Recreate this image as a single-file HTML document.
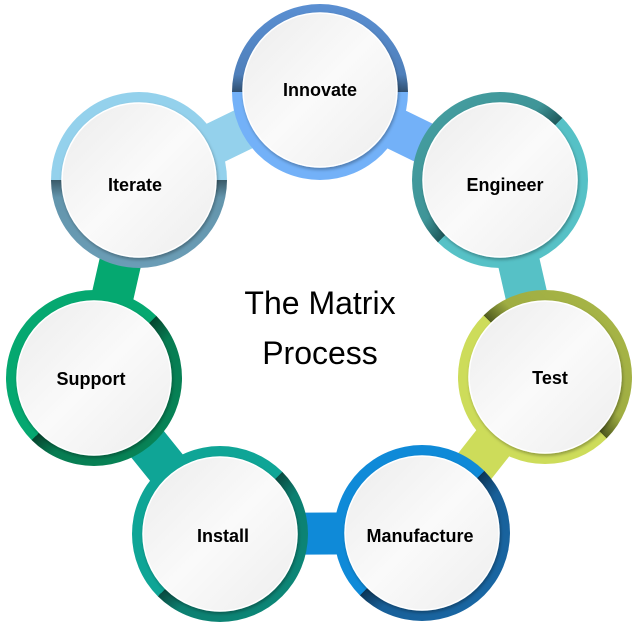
<!DOCTYPE html>
<html><head><meta charset="utf-8"><style>
html,body{margin:0;padding:0;background:#fff;}
svg{display:block;}
text{font-family:"Liberation Sans",sans-serif;}
</style></head><body>
<svg width="640" height="627" viewBox="0 0 640 627" xmlns="http://www.w3.org/2000/svg">
<defs>
<linearGradient id="gInn" x1="0" y1="1" x2="0" y2="0"><stop offset="0" stop-color="#73b1f8"/><stop offset="0.5" stop-color="#73b1f8"/><stop offset="0.5" stop-color="#2f4f70"/><stop offset="0.6" stop-color="#4f80bb"/><stop offset="1" stop-color="#5a8fd2"/></linearGradient>
<linearGradient id="gIt" x1="0" y1="0" x2="0" y2="1"><stop offset="0" stop-color="#94d1ec"/><stop offset="0.5" stop-color="#94d1ec"/><stop offset="0.5" stop-color="#3a5a68"/><stop offset="0.6" stop-color="#6395ac"/><stop offset="1" stop-color="#6b9db6"/></linearGradient>
<linearGradient id="gEng" x1="1" y1="1" x2="0" y2="0"><stop offset="0" stop-color="#56c1c6"/><stop offset="0.5" stop-color="#56c1c6"/><stop offset="0.5" stop-color="#1f5a5c"/><stop offset="0.6" stop-color="#3f9598"/><stop offset="1" stop-color="#46a0a2"/></linearGradient>
<linearGradient id="gTest" x1="0" y1="1" x2="1" y2="0"><stop offset="0" stop-color="#cddc5a"/><stop offset="0.5" stop-color="#cddc5a"/><stop offset="0.5" stop-color="#4f5a1e"/><stop offset="0.6" stop-color="#9fad42"/><stop offset="1" stop-color="#aab848"/></linearGradient>
<linearGradient id="gMan" x1="0" y1="0" x2="1" y2="1"><stop offset="0" stop-color="#0f8ad8"/><stop offset="0.5" stop-color="#0f8ad8"/><stop offset="0.5" stop-color="#0c3556"/><stop offset="0.6" stop-color="#185f98"/><stop offset="1" stop-color="#1a6aa8"/></linearGradient>
<linearGradient id="gIns" x1="0" y1="0" x2="1" y2="1"><stop offset="0" stop-color="#0fa596"/><stop offset="0.5" stop-color="#0fa596"/><stop offset="0.5" stop-color="#0a4a40"/><stop offset="0.6" stop-color="#0c7f70"/><stop offset="1" stop-color="#0d8a7a"/></linearGradient>
<linearGradient id="gSup" x1="0" y1="0" x2="1" y2="1"><stop offset="0" stop-color="#05a870"/><stop offset="0.5" stop-color="#05a870"/><stop offset="0.5" stop-color="#05452e"/><stop offset="0.6" stop-color="#077c52"/><stop offset="1" stop-color="#078758"/></linearGradient>
<linearGradient id="gW" x1="0" y1="0" x2="1" y2="1"><stop offset="0" stop-color="#ececec"/><stop offset="0.5" stop-color="#fafafa"/><stop offset="1" stop-color="#ededed"/></linearGradient>
<filter id="sh" x="-20%" y="-20%" width="140%" height="140%"><feDropShadow dx="1" dy="2" stdDeviation="1.5" flood-color="#000" flood-opacity="0.3"/></filter>
</defs>
<g stroke-width="42" stroke-linecap="round">
<line x1="139" y1="180" x2="320" y2="92" stroke="#94d1ec"/>
<line x1="320" y1="92" x2="500" y2="180" stroke="#73b1f8"/>
<line x1="500" y1="180" x2="545" y2="377" stroke="#56c1c6"/>
<line x1="545" y1="377" x2="422" y2="533" stroke="#cddc5a"/>
<line x1="422" y1="533" x2="220" y2="534" stroke="#0f8ad8"/>
<line x1="220" y1="534" x2="94" y2="378" stroke="#0fa596"/>
<line x1="94" y1="378" x2="139" y2="180" stroke="#05a870"/>
</g>
<circle cx="320" cy="92" r="88" fill="url(#gInn)"/>
<circle cx="500" cy="180" r="88" fill="url(#gEng)"/>
<circle cx="545" cy="377" r="87" fill="url(#gTest)"/>
<circle cx="422" cy="533" r="88" fill="url(#gMan)"/>
<circle cx="220" cy="534" r="88" fill="url(#gIns)"/>
<circle cx="94" cy="378" r="88" fill="url(#gSup)"/>
<circle cx="139" cy="180" r="88" fill="url(#gIt)"/>
<g fill="url(#gW)" filter="url(#sh)" stroke="#fff" stroke-width="1.5">
<circle cx="320" cy="90" r="77"/>
<circle cx="500" cy="180" r="77"/>
<circle cx="545" cy="377" r="76"/>
<circle cx="422" cy="533" r="77"/>
<circle cx="220" cy="534" r="77"/>
<circle cx="94" cy="378" r="77"/>
<circle cx="139" cy="180" r="77"/>
</g>
<g font-size="18" font-weight="bold" fill="#000" text-anchor="middle">
<text x="320" y="96">Innovate</text>
<text x="505" y="191">Engineer</text>
<text x="550" y="384">Test</text>
<text x="420" y="542">Manufacture</text>
<text x="223" y="542">Install</text>
<text x="91" y="385">Support</text>
<text x="135" y="191">Iterate</text>
</g>
<g font-size="32" fill="#000" text-anchor="middle">
<text x="320" y="314">The Matrix</text>
<text x="320" y="364">Process</text>
</g>
</svg>
</body></html>
